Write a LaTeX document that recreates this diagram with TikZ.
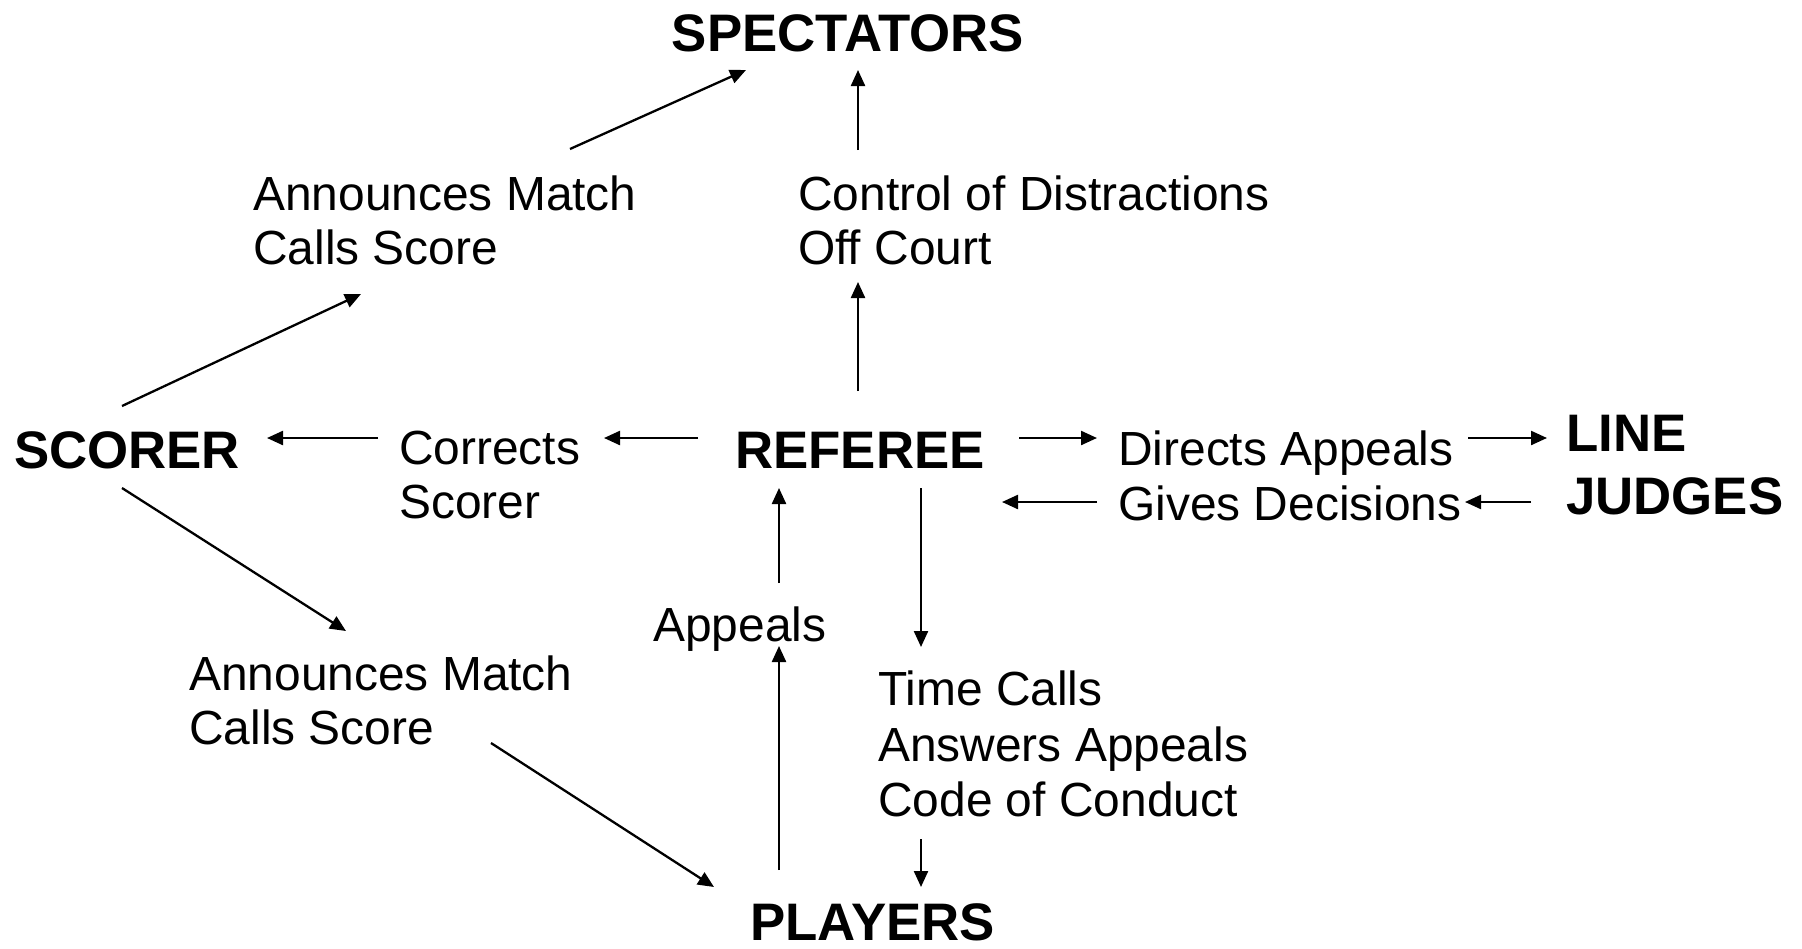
\documentclass[tikz,border=0pt]{standalone}
\usepackage{fontspec}
\setmainfont{Liberation Sans}
\usetikzlibrary{arrows.meta}
\tikzset{
  lbl/.style={font=\fontsize{47.9}{53.8}\selectfont, inner sep=0pt, align=left},
  lblwide/.style={font=\fontsize{47.9}{55.8}\selectfont, inner sep=0pt, align=left},
  big/.style={font=\fontsize{52.8}{60}\selectfont\bfseries, inner sep=0pt, align=left},
  arr/.style={line width=2.3pt, -{Triangle[length=16pt,width=14pt]}}
}
\begin{document}
\begin{tikzpicture}[x=1pt,y=-1pt]
\useasboundingbox (0,0) rectangle (1802,948);
% main nodes
\node[big, anchor=base] (spect) at (848,51) {SPECTATORS};
\node[big, anchor=base west] (scorer) at (14,468) {SCORER};
\node[big, anchor=base west] (referee) at (735,468) {REFEREE};
\node[big, anchor=base west] (line) at (1566,451) {LINE};
\node[big, anchor=base west] (judges) at (1566,514) {JUDGES};
\node[big, anchor=base west] (players) at (750,940) {PLAYERS};
% labels
\node[lbl, anchor=west] (annA) at (253,220) {Announces Match\\Calls Score};
\node[lbl, anchor=west] (ctrl) at (798,220) {Control of Distractions\\Off Court};
\node[lbl, anchor=west] (corr) at (399,475) {Corrects\\Scorer};
\node[lbl, anchor=base west] (dir) at (1118,465) {Directs Appeals};
\node[lbl, anchor=base west] (gives) at (1118,520) {Gives Decisions};
\node[lbl, anchor=base west] (appeals) at (653,641) {Appeals};
\node[lblwide, anchor=west] (time) at (878,744) {Time Calls\\Answers Appeals\\Code of Conduct};
\node[lbl, anchor=west] (annB) at (189,700) {Announces Match\\Calls Score};
% connector end points
\coordinate (a1s) at (570,149);  \coordinate (a1e) at (746,70);
\coordinate (a2s) at (858,150);  \coordinate (a2e) at (858,70);
\coordinate (a3s) at (858,391);  \coordinate (a3e) at (858,282);
\coordinate (a4s) at (122,406);  \coordinate (a4e) at (361,294);
\coordinate (a5s) at (698,438);  \coordinate (a5e) at (604,438);
\coordinate (a6s) at (378,438);  \coordinate (a6e) at (267,438);
\coordinate (a7s) at (1019,438); \coordinate (a7e) at (1097,438);
\coordinate (a8s) at (1468,438); \coordinate (a8e) at (1547,438);
\coordinate (a9s) at (1531,502); \coordinate (a9e) at (1465,502);
\coordinate (a10s) at (1097,502); \coordinate (a10e) at (1002,502);
\coordinate (a11s) at (779,583); \coordinate (a11e) at (779,488);
\coordinate (a12s) at (921,488); \coordinate (a12e) at (921,647);
\coordinate (a13s) at (779,870); \coordinate (a13e) at (779,646);
\coordinate (a14s) at (921,839); \coordinate (a14e) at (921,887);
\coordinate (a15s) at (122,488); \coordinate (a15e) at (346,631);
\coordinate (a16s) at (491,743); \coordinate (a16e) at (714,887);
% connectors
\draw[arr] (a1s) -- (a1e);
\draw[arr] (a2s) -- (a2e);
\draw[arr] (a3s) -- (a3e);
\draw[arr] (a4s) -- (a4e);
\draw[arr] (a5s) -- (a5e);
\draw[arr] (a6s) -- (a6e);
\draw[arr] (a7s) -- (a7e);
\draw[arr] (a8s) -- (a8e);
\draw[arr] (a9s) -- (a9e);
\draw[arr] (a10s) -- (a10e);
\draw[arr] (a11s) -- (a11e);
\draw[arr] (a12s) -- (a12e);
\draw[arr] (a13s) -- (a13e);
\draw[arr] (a14s) -- (a14e);
\draw[arr] (a15s) -- (a15e);
\draw[arr] (a16s) -- (a16e);
\end{tikzpicture}
\end{document}
